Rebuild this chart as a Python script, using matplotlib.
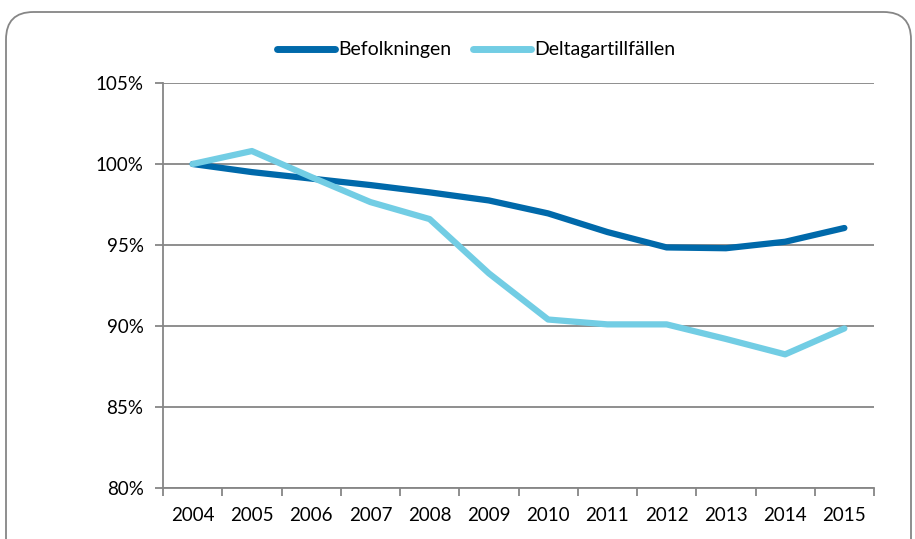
import matplotlib
matplotlib.use("Agg")
import matplotlib.pyplot as plt
from matplotlib.patches import FancyBboxPatch
from matplotlib.ticker import FuncFormatter, FixedLocator

years = ["2004", "2005", "2006", "2007", "2008", "2009",
         "2010", "2011", "2012", "2013", "2014", "2015"]
befolkningen = [100.0, 99.5, 99.1, 98.7, 98.25, 97.75,
                96.95, 95.8, 94.85, 94.8, 95.2, 96.05]
deltagartillfallen = [100.0, 100.8, 99.2, 97.65, 96.6, 93.25,
                      90.4, 90.1, 90.1, 89.2, 88.25, 89.85]
yticks = [80, 85, 90, 95, 100, 105]

plt.rcParams['font.family'] = ['Lato', 'DejaVu Sans']

fig = plt.figure(figsize=(9.15, 5.39), dpi=100)
ax = fig.add_axes([163/915, 1 - 488/539, (874-163)/915, (488-83)/539])

grey = "#868686"
x = list(range(len(years)))
ax.plot(x, befolkningen, color="#0069AA", lw=4.5, solid_capstyle="round",
        solid_joinstyle="round", label="Befolkningen", zorder=3)
ax.plot(x, deltagartillfallen, color="#72CDE4", lw=4.5, solid_capstyle="round",
        solid_joinstyle="round", label="Deltagartillfällen", zorder=3)

ax.set_xlim(-0.5, len(years) - 0.5)
ax.set_ylim(80, 105)
ax.set_yticks(yticks)
ax.yaxis.set_major_formatter(FuncFormatter(lambda v, p: f"{v:.0f}%"))
ax.set_xticks(x)
ax.set_xticklabels(years)
ax.xaxis.set_minor_locator(FixedLocator([i - 0.5 for i in range(len(years) + 1)]))
ax.tick_params(axis="x", which="major", length=0, labelsize=13.5, pad=14)
ax.tick_params(axis="x", which="minor", length=6, width=1.3, color=grey)
ax.tick_params(axis="y", length=6, width=1.3, color=grey, labelsize=13.5, pad=8)

ax.grid(axis="y", color=grey, lw=1.3)
ax.set_axisbelow(True)
for s in ["top", "right"]:
    ax.spines[s].set_visible(False)
for s in ["left", "bottom"]:
    ax.spines[s].set_color(grey)
    ax.spines[s].set_linewidth(1.3)

leg = fig.legend(loc="center", bbox_to_anchor=(476/915, 1 - 50/539), ncol=2,
                 frameon=False, fontsize=14, handlelength=3.0,
                 handletextpad=0.15, columnspacing=1.1)
for h in leg.get_lines():
    h.set_linewidth(5)

border = FancyBboxPatch((6/915, -0.05), 905/915, 1 - 12/539 + 0.05,
                        boxstyle="round,pad=0,rounding_size=0.03",
                        transform=fig.transFigure, fill=False,
                        edgecolor=grey, lw=1.3, mutation_aspect=915/539)
fig.patches.append(border)

fig.savefig("out.png", dpi=100)
